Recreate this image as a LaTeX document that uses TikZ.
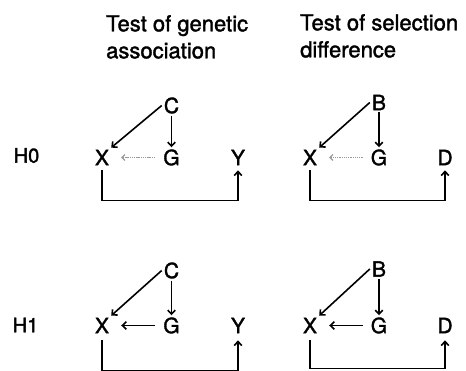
\documentclass[tikz,border=0pt]{standalone}
\usepackage{fontspec}
\setmainfont{TeX Gyre Heros}[FakeBold=1.6]
\usetikzlibrary{arrows.meta}
\begin{document}
\begin{tikzpicture}[x=1pt,y=-1pt,
  v/.style={inner sep=2pt, font=\fontsize{21}{21}\selectfont},
  lab/.style={inner sep=0pt, font=\fontsize{20}{20}\selectfont},
  ttl/.style={inner sep=0pt, anchor=north west, align=left, font=\fontsize{22}{27}\selectfont},
  arr/.style={line width=1.6pt, -{Straight Barb[length=4pt,width=7.5pt]}},
  darr/.style={line width=1.1pt, black!40, dash pattern=on 1.3pt off 0.9pt, -{Straight Barb[length=3pt,width=6pt]}},
]
\useasboundingbox (0,0) rectangle (466,371);
% titles
\node[ttl] (t1) at (106,15) {Test of genetic\\association};
\node[ttl] (t2) at (300,14) {Test of selection\\difference};
% row labels
\node[lab] (h0) at (26.5,155.5) {H0};
\node[lab] (h1) at (25.5,325) {H1};
% H0 left
\node[v] (c1) at (171.5,105.5) {C};
\node[v] (x1) at (102,157.5) {X};
\node[v] (g1) at (171.5,157.5) {G};
\node[v] (y1) at (238,157.5) {Y};
\draw[arr] (c1.west) -- (x1.north east);
\draw[arr] (c1.south) -- (g1.north);
\draw[darr, shorten <=6pt, shorten >=10pt] (g1.west) -- (x1.east);
\draw[arr, shorten <=3pt, shorten >=3pt] (x1.south) -- ++(0,33) -| (y1.south);
% H0 right
\node[v] (b2) at (379,102.5) {B};
\node[v] (x2) at (310,157.5) {X};
\node[v] (g2) at (379,157.5) {G};
\node[v] (d2) at (445,157.5) {D};
\draw[arr] (b2.west) -- (x2.north east);
\draw[arr] (b2.south) -- (g2.north);
\draw[darr, shorten <=6pt, shorten >=10pt] (g2.west) -- (x2.east);
\draw[arr, shorten <=3pt, shorten >=3pt] (x2.south) -- ++(0,33) -| (d2.south);
% H1 left
\node[v] (c3) at (171.5,270.5) {C};
\node[v] (x3) at (102,325.5) {X};
\node[v] (g3) at (171.5,325.5) {G};
\node[v] (y3) at (238,325.5) {Y};
\draw[arr] (c3.west) -- (x3.north east);
\draw[arr] (c3.south) -- (g3.north);
\draw[arr, shorten <=6pt, shorten >=10pt] (g3.west) -- (x3.east);
\draw[arr, shorten <=5pt, shorten >=5pt] (x3.south) -- ++(0,35) -| (y3.south);
% H1 right
\node[v] (b4) at (379,269) {B};
\node[v] (x4) at (310,325.5) {X};
\node[v] (g4) at (379,325.5) {G};
\node[v] (d4) at (445,325.5) {D};
\draw[arr] (b4.west) -- (x4.north east);
\draw[arr] (b4.south) -- (g4.north);
\draw[arr, shorten <=6pt, shorten >=10pt] (g4.west) -- (x4.east);
\draw[arr, shorten <=5pt, shorten >=5pt] (x4.south) -- ++(0,33) -| (d4.south);
\end{tikzpicture}
\end{document}
